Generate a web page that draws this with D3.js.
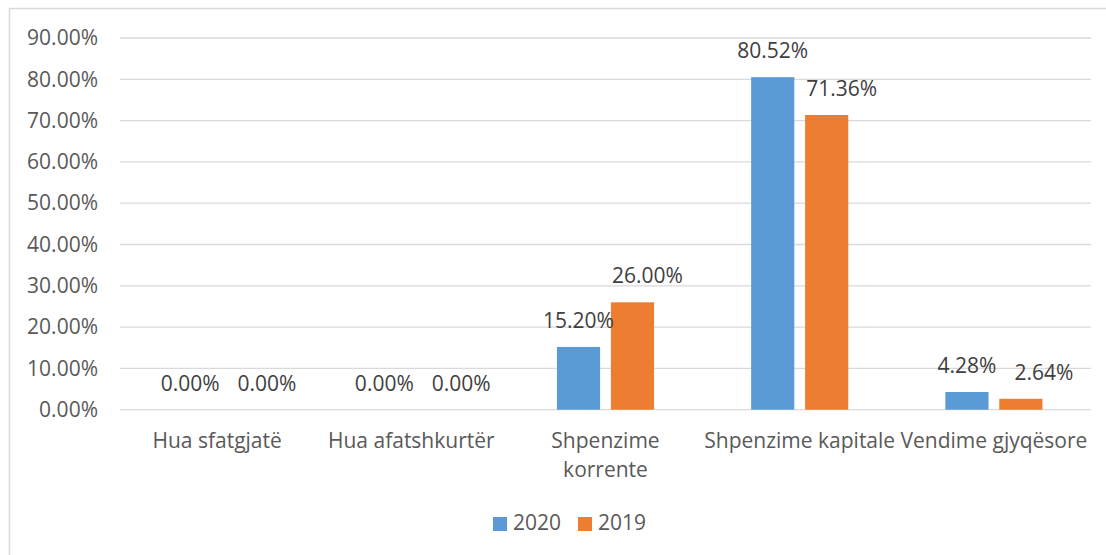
<!DOCTYPE html>
<meta charset="utf-8">
<script src="https://d3js.org/d3.v7.min.js"></script>
<style>
  body { margin: 0; background: #fff; }
  text { font-family: "Open Sans", sans-serif; }
</style>
<div id="my_dataviz"></div>
<script>

// data
var categories = ["Hua sfatgjatë", "Hua afatshkurtër", "Shpenzime korrente", "Shpenzime kapitale", "Vendime gjyqësore"];
var categoryLines = [["Hua sfatgjatë"], ["Hua afatshkurtër"], ["Shpenzime", "korrente"], ["Shpenzime kapitale"], ["Vendime gjyqësore"]];
var series = ["2020", "2019"];
var values2020 = [0, 0, 15.20, 80.52, 4.28];
var values2019 = [0, 0, 26.00, 71.36, 2.64];
var yTicks = [0, 10, 20, 30, 40, 50, 60, 70, 80, 90];
var colors = ["#5B9BD5", "#ED7D31"];

var W = 1106, H = 555;
var fontSize = "21px";
var margin = {top: 38, right: 15, bottom: 145, left: 120},
    width = 1091 - margin.left,
    height = 409.7 - margin.top;

var svg = d3.select("#my_dataviz")
  .append("svg")
    .attr("width", W)
    .attr("height", H);

// chart border
svg.append("rect")
  .attr("x", 9.5).attr("y", 8.5)
  .attr("width", W).attr("height", H)
  .attr("fill", "none")
  .attr("stroke", "#D9D9D9")
  .attr("stroke-width", 1.5);

var g = svg.append("g")
  .attr("transform", "translate(" + margin.left + "," + margin.top + ")");

var x0 = d3.scaleBand()
  .domain(categories)
  .range([0, width])
  .padding(0);

var x1 = d3.scaleBand()
  .domain(series)
  .range([0, x0.bandwidth()])
  .paddingInner(0.2)
  .paddingOuter(0.9);

var y = d3.scaleLinear()
  .domain([0, 90])
  .range([height, 0]);

// gridlines
g.selectAll(".grid")
  .data(yTicks)
  .enter().append("line")
    .attr("x1", 0).attr("x2", width)
    .attr("y1", function(d) { return y(d); })
    .attr("y2", function(d) { return y(d); })
    .attr("stroke", "#D9D9D9")
    .attr("stroke-width", 1.3);

// y axis labels
var yAxis = g.append("g")
  .call(d3.axisLeft(y).tickValues(yTicks).tickSize(0).tickPadding(22)
    .tickFormat(function(d) { return d.toFixed(2) + "%"; }));
yAxis.select(".domain").remove();
yAxis.selectAll("text")
  .style("font-size", fontSize)
  .style("font-family", "Open Sans, sans-serif")
  .attr("fill", "#595959");

// x axis labels
var xAxis = g.append("g")
  .attr("transform", "translate(0," + height + ")")
  .call(d3.axisBottom(x0).tickSize(0).tickFormat(""));
xAxis.select(".domain").remove();
xAxis.selectAll(".tick").each(function(d, i) {
  var t = d3.select(this).append("text")
    .attr("text-anchor", "middle")
    .attr("fill", "#595959")
    .style("font-size", fontSize);
  categoryLines[i].forEach(function(line, j) {
    t.append("tspan")
      .attr("x", 0)
      .attr("y", 38 + j * 29)
      .text(line);
  });
});

// bars
var rows = categories.map(function(c, i) {
  return {cat: c, vals: [{s: "2020", v: values2020[i]}, {s: "2019", v: values2019[i]}]};
});

var groups = g.selectAll(".grp")
  .data(rows)
  .enter().append("g")
    .attr("transform", function(d) { return "translate(" + x0(d.cat) + ",0)"; });

groups.selectAll("rect")
  .data(function(d) { return d.vals; })
  .enter().append("rect")
    .attr("x", function(d) { return x1(d.s); })
    .attr("y", function(d) { return y(d.v); })
    .attr("width", x1.bandwidth())
    .attr("height", function(d) { return height - y(d.v); })
    .attr("fill", function(d, i) { return colors[i]; });

// data labels, the second one pushed right when it would run into the first
groups.each(function(d) {
  var grp = d3.select(this);
  var prevRight = null, prevY = null;
  d.vals.forEach(function(v) {
    var ty = y(v.v) - 19;
    var t = grp.append("text")
      .attr("y", ty)
      .attr("fill", "#404040")
      .style("font-size", fontSize)
      .text(v.v.toFixed(2) + "%");
    var w = t.node().getComputedTextLength();
    var left = x1(v.s) + x1.bandwidth() / 2 - w / 2;
    if (prevRight !== null) {
      var gap = Math.abs(ty - prevY) < 22 ? 18 : -2;
      left = Math.max(left, prevRight + gap);
    }
    t.attr("x", left);
    prevRight = left + w;
    prevY = ty;
  });
});

// legend
var legendX = [493, 578];
series.forEach(function(s, i) {
  svg.append("rect")
    .attr("x", legendX[i]).attr("y", 517)
    .attr("width", 14).attr("height", 14)
    .attr("fill", colors[i]);
  svg.append("text")
    .attr("x", legendX[i] + 20).attr("y", 530)
    .attr("fill", "#595959")
    .style("font-size", fontSize)
    .text(s);
});

</script>
